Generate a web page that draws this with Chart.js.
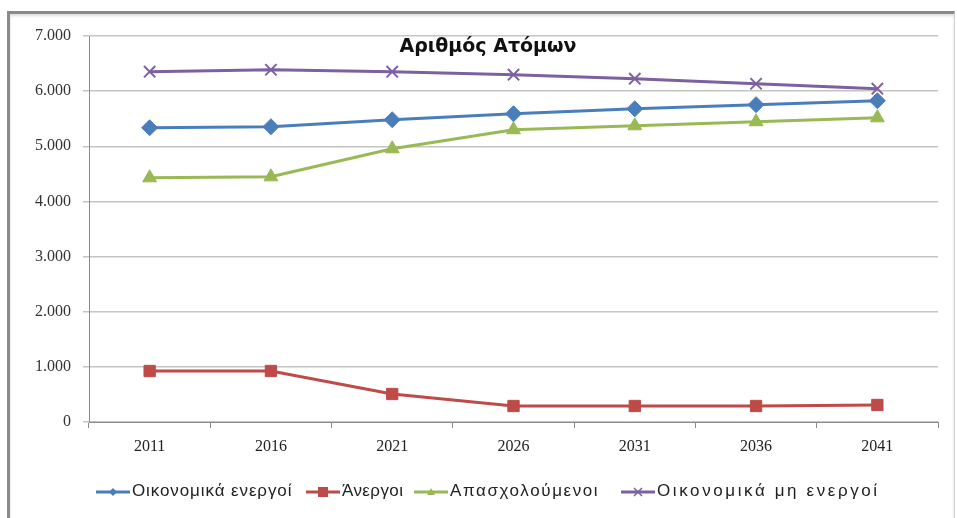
<!DOCTYPE html>
<html>
<head>
<meta charset="utf-8">
<script src="https://cdn.jsdelivr.net/npm/chart.js@4/dist/chart.umd.min.js"></script>
<style>
  body { margin: 0; background: #fff; }
  #wrap { position: relative; width: 957px; height: 518px; overflow: hidden; }
  #frame { position: absolute; left: 7px; top: 11px; width: 944px; height: 510px;
           border-top: 3px solid #8a8a8a; border-left: 3px solid #8a8a8a; border-right: 1px solid #d0d0d0;
           box-shadow: 0 2px 3px #ddd inset; }
  #c { position: absolute; left: 0; top: 0; }
  #titulo { position: absolute; left: 0; width: 976px; top: 34px; text-align: center;
            font: bold 19px "DejaVu Sans", sans-serif; color: #111; }
  #leyenda { position: absolute; left: 0; top: 481px; width: 957px; height: 30px;
             font: 17px "Liberation Sans", sans-serif; color: #222; white-space: nowrap; }
  .item { position: absolute; top: 0; }
  .item svg { vertical-align: middle; margin-right: 2px; }
</style>
</head>
<body>
<div id="wrap">
  <div id="frame"></div>
  <canvas id="c" width="957" height="518"></canvas>
  <div id="titulo">Αριθμός Ατόμων</div>
  <div id="leyenda"></div>
</div>
<script>
// datos
const anios = ["2011", "2016", "2021", "2026", "2031", "2036", "2041"];
const nombres = ["Οικονομικά ενεργοί", "Άνεργοι", "Απασχολούμενοι", "Οικονομικά μη ενεργοί"];
const ecoActivos = [5336, 5354, 5481, 5590, 5680, 5755, 5826];
const desempleados = [925, 925, 508, 290, 290, 290, 309];
const ocupados = [4428, 4446, 4955, 5300, 5372, 5445, 5517];
const ecoInactivos = [6352, 6388, 6352, 6298, 6225, 6134, 6044];
const ticksY = [0, 1000, 2000, 3000, 4000, 5000, 6000, 7000];

const colores = ["#4a7ebb", "#be4b48", "#98b954", "#7d60a0"];
const estilos = ["rectRot", "rect", "triangle", "crossRot"];
const radios = [8, 8, 8, 8];
const series = [ecoActivos, desempleados, ocupados, ecoInactivos];
// donde empieza cada entrada de la leyenda
const posLeyenda = [96, 306, 414, 621];
const espaciado = ["0.9px", "0.4px", "1.6px", "2.6px"];

//formato con punto de miles
const miles = (v) => String(v).replace(/\B(?=(\d{3})+(?!\d))/g, ".");

const datasets = series.map((s, i) => ({
    label: nombres[i],
    data: s,
    borderColor: colores[i],
    backgroundColor: colores[i],
    borderWidth: 3,
    pointStyle: estilos[i],
    pointRadius: radios[i],
    pointBorderWidth: i == 3 ? 2 : 1,
    tension: 0
}));

// leyenda en html (linea + marcador como en excel)
const marcador = (i) => {
    const c = colores[i];
    let m = "";
    if (i == 0) m = `<polygon points="17,4 21,8 17,12 13,8" fill="${c}"/>`;
    if (i == 1) m = `<rect x="12" y="3" width="10" height="10" fill="${c}"/>`;
    if (i == 2) m = `<polygon points="17,4 21,11 13,11" fill="${c}"/>`;
    if (i == 3) m = `<path d="M13,4 L21,12 M21,4 L13,12" stroke="${c}" stroke-width="1.5"/>`;
    return `<svg width="34" height="16"><line x1="0" y1="8" x2="34" y2="8" stroke="${c}" stroke-width="3"/>${m}</svg>`;
};
let html = "";
nombres.forEach((n, i) => {
    html += `<span class="item" style="left:${posLeyenda[i]}px;letter-spacing:${espaciado[i]}">${marcador(i)}${n}</span>`;
});
document.getElementById("leyenda").innerHTML = html;

const ctx = document.getElementById("c").getContext("2d");
new Chart(ctx, {
    type: "line",
    data: { labels: anios, datasets: datasets },
    options: {
        responsive: false,
        animation: false,
        layout: { padding: { top: 36, right: 19, bottom: 56, left: 0 } },
        plugins: { legend: { display: false }, title: { display: false }, tooltip: { enabled: false } },
        scales: {
            x: {
                offset: true,
                grid: { offset: true, drawOnChartArea: false, color: "#8a8a8a", tickLength: 6 },
                border: { color: "#8a8a8a", width: 1 },
                ticks: { color: "#222", font: { family: "Liberation Serif", size: 16 }, padding: 9 },
                afterFit: (s) => { s.height = 40; }
            },
            y: {
                min: 0,
                max: 7000,
                afterBuildTicks: (s) => { s.ticks = ticksY.map(v => ({ value: v })); },
                grid: { color: "#c4c4c4", tickLength: 6, lineWidth: 1.5 },
                border: { color: "#8a8a8a", width: 1 },
                ticks: { color: "#333", font: { family: "Liberation Serif", size: 16 }, padding: 12,
                         callback: (v) => miles(v) },
                afterFit: (s) => { s.width = 89; }
            }
        }
    }
});
</script>
</body>
</html>
